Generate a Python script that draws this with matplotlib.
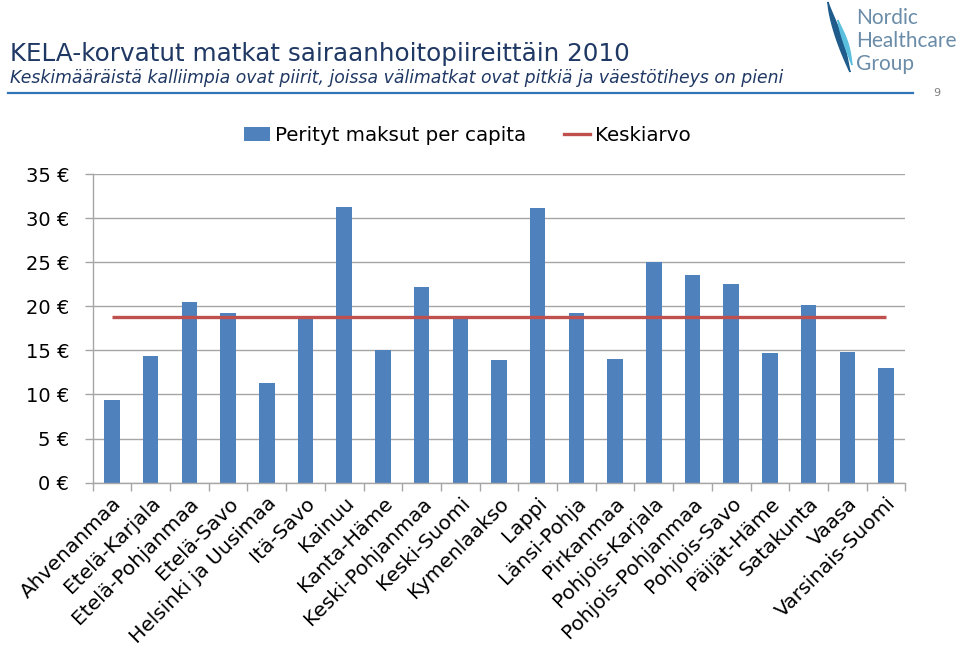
import matplotlib
matplotlib.use("Agg")
import matplotlib.pyplot as plt
import numpy as np
from matplotlib.lines import Line2D
from matplotlib.patches import Patch

categories = ["Ahvenanmaa", "Etelä-Karjala", "Etelä-Pohjanmaa", "Etelä-Savo",
              "Helsinki ja Uusimaa", "Itä-Savo", "Kainuu", "Kanta-Häme",
              "Keski-Pohjanmaa", "Keski-Suomi", "Kymenlaakso", "Lappi",
              "Länsi-Pohja", "Pirkanmaa", "Pohjois-Karjala", "Pohjois-Pohjanmaa",
              "Pohjois-Savo", "Päijät-Häme", "Satakunta", "Vaasa", "Varsinais-Suomi"]
perityt = [9.4, 14.4, 20.5, 19.2, 11.3, 18.7, 31.3, 15.0, 22.2, 18.6, 13.9,
           31.1, 19.2, 14.0, 25.0, 23.5, 22.5, 14.7, 20.2, 14.8, 13.0]
keskiarvo = 18.75
yticks = [0, 5, 10, 15, 20, 25, 30, 35]
ytick_labels = ["0 €", "5 €", "10 €", "15 €", "20 €", "25 €", "30 €", "35 €"]

title = "KELA-korvatut matkat sairaanhoitopiireittäin 2010"
subtitle = "Keskimääräistä kalliimpia ovat piirit, joissa välimatkat ovat pitkiä ja väestötiheys on pieni"

FONT = "DejaVu Sans"
plt.rcParams["font.family"] = [FONT]

W, H = 960, 649
fig = plt.figure(figsize=(W / 100, H / 100), dpi=100)

ax = fig.add_axes([92.7 / W, 1 - 482.7 / H, (905.3 - 92.7) / W, (482.7 - 174) / H])
x = np.arange(len(categories))
ax.bar(x, perityt, width=0.4, color="#4F81BD", zorder=2)
ax.plot([x[0], x[-1]], [keskiarvo, keskiarvo], color="#C0504D", lw=2.4, zorder=3,
        solid_capstyle="butt")

ax.set_xlim(-0.5, len(categories) - 0.5)
ax.set_ylim(0, 35)
ax.set_yticks(yticks)
ax.set_yticklabels(ytick_labels, fontsize=14)
ax.yaxis.grid(True, color="#A6A6A6", lw=1.0, zorder=0)
ax.set_axisbelow(True)
for s in ["top", "right"]:
    ax.spines[s].set_visible(False)
for s in ["left", "bottom"]:
    ax.spines[s].set_color("#A6A6A6")
    ax.spines[s].set_linewidth(1.0)
ax.tick_params(axis="y", length=6, color="#A6A6A6", width=1.0, pad=11, labelcolor="black")

ax.set_xticks(np.arange(-0.5, len(categories), 1.0), minor=False)
ax.set_xticklabels([])
ax.tick_params(axis="x", length=6, color="#A6A6A6", width=1.0)
ax.set_xticks(x, minor=True)
ax.set_xticklabels(categories, minor=True, rotation=45, ha="right", va="top",
                   rotation_mode="anchor", fontsize=14.5)
ax.tick_params(axis="x", which="minor", length=0, pad=8)

handles = [Patch(facecolor="#4F81BD", edgecolor="none", label="Perityt maksut per capita"),
           Line2D([0], [0], color="#C0504D", lw=2.4, label="Keskiarvo")]
ax.legend(handles=handles, loc="center", bbox_to_anchor=((467.5 - 92.7) / 812.6, 1.126), ncol=2,
          frameon=False, fontsize=14.3, handlelength=1.3, handletextpad=0.25,
          columnspacing=1.9)

# Header
fig.text(10 / W, 1 - 61 / H, title, fontsize=17.7, color="#1F3864", ha="left", va="baseline")
fig.text(10 / W, 1 - 83 / H, subtitle, fontsize=12.4, color="#1F3864", style="italic",
         ha="left", va="baseline")
fig.add_artist(Line2D([8 / W, 913 / W], [1 - 93 / H, 1 - 93 / H], color="#2E75B6", lw=1.6,
                      transform=fig.transFigure))
fig.text(937 / W, 1 - 96 / H, "9", fontsize=8, color="#7F7F7F", ha="center", va="baseline")

# Logo
lax = fig.add_axes([820 / W, 1 - 75 / H, 140 / W, 75 / H])
lax.set_xlim(820, 960)
lax.set_ylim(75, 0)
lax.axis("off")
t = np.linspace(0, 1, 50)
xs1 = 828 + 22 * t ** 1.5
ys1 = 2 + 70 * t
lax.fill(np.concatenate([xs1, (xs1 + 6 * np.sin(np.pi * t))[::-1]]),
         np.concatenate([ys1, ys1[::-1]]), color="#1F5C8C")
xs2 = 838 + 14 * t ** 1.3
ys2 = 20 + 45 * t
lax.fill(np.concatenate([xs2, (xs2 + 4 * np.sin(np.pi * t))[::-1]]),
         np.concatenate([ys2, ys2[::-1]]), color="#5BC0DE")
for txt, yb in [("Nordic", 24), ("Healthcare", 47), ("Group", 70)]:
    lax.text(856, yb, txt, fontsize=15, color="#6A8CA8", ha="left", va="baseline",
             family="Lato")

fig.savefig("out.png", dpi=100)
